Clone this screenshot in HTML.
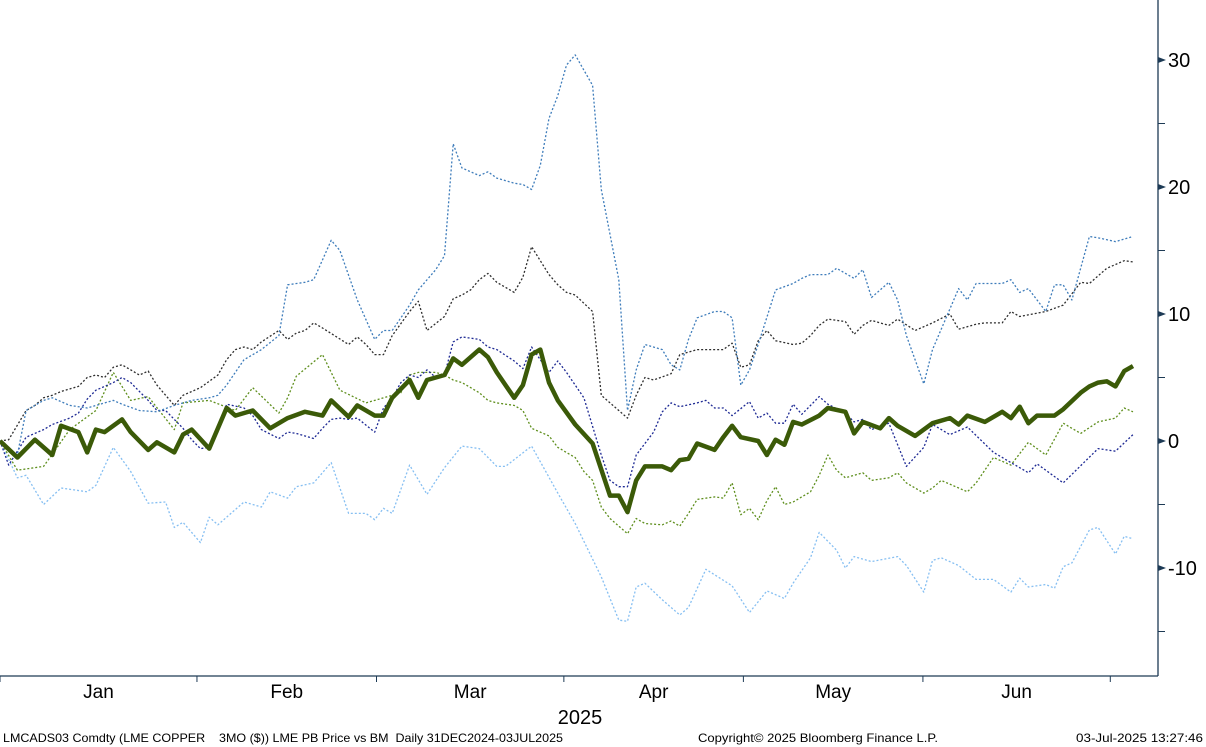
<!DOCTYPE html>
<html><head><meta charset="utf-8"><style>
html,body{margin:0;padding:0;background:#fff;}
svg{display:block;font-family:"Liberation Sans","DejaVu Sans",sans-serif;}
.ft{white-space:pre;}
</style></head><body>
<svg id="chart" width="1206" height="747" viewBox="0 0 1206 747" xmlns="http://www.w3.org/2000/svg">
<g id="series-layer"></g>
<g id="axis-layer"></g>
<text x="580" y="724" font-size="20" text-anchor="middle" fill="#000">2025</text>
<text class="ft" xml:space="preserve" x="3" y="742" font-size="12" fill="#000" textLength="560" lengthAdjust="spacingAndGlyphs">LMCADS03 Comdty (LME COPPER    3MO ($)) LME PB Price vs BM  Daily 31DEC2024-03JUL2025</text>
<text x="698" y="742" font-size="12" fill="#000" textLength="240" lengthAdjust="spacingAndGlyphs">Copyright© 2025 Bloomberg Finance L.P.</text>
<text x="1076" y="742" font-size="12" fill="#000" textLength="127" lengthAdjust="spacingAndGlyphs">03-Jul-2025 13:27:46</text>
</svg>
<script>
const mainDays=[0,2,4,6,7,9,10,11,12,14,15,17,18,20,21,22,24,26,27,29,31,33,35,37,38,40,41,43,44,45,47,48,49,51,52,53,55,56,57,59,60,61,62,63,64,66,68,70,71,72,73,74,76,77,78,79,80,82,83,84,85,87,88,89,90,91,92,94,95,97,98,99,101,102,103,105,107,109,110,111,113,115,116,117,118,119,121,122,124,125,126,127,128,129,130];
const mainVals=[0,-1.3,0.1,-1.1,1.2,0.7,-0.9,0.9,0.7,1.7,0.7,-0.7,-0.1,-0.9,0.5,0.9,-0.6,2.6,2.0,2.4,1.0,1.8,2.3,2.0,3.2,1.9,2.8,2.0,2.0,3.4,4.8,3.4,4.8,5.2,6.5,6.0,7.2,6.6,5.4,3.4,4.4,6.8,7.2,4.6,3.2,1.3,-0.2,-4.3,-4.3,-5.6,-3.1,-2.0,-2.0,-2.3,-1.5,-1.4,-0.2,-0.7,0.3,1.2,0.3,0.0,-1.1,0.1,-0.3,1.5,1.3,2.0,2.6,2.3,0.6,1.5,1.0,1.8,1.2,0.4,1.4,1.8,1.3,2.0,1.5,2.3,1.8,2.7,1.4,2.0,2.0,2.5,3.8,4.3,4.6,4.7,4.3,5.5,5.9];
const s1Days=[0,2,3,5,6,8,10,13,14,16,18,20,22,24,25,26,28,30,32,33,35,36,38,39,41,43,44,45,47,48,50,51,52,53,55,56,57,59,60,61,62,63,64,65,66,68,69,71,72,73,74,76,77,78,79,80,82,83,84,85,86,87,89,91,92,93,95,96,98,99,100,102,103,104,106,107,110,111,112,113,115,116,117,118,120,121,122,123,125,126,128,130];
const s1Vals=[0,-1.1,2.4,3.2,3.4,2.8,2.6,3.2,2.9,2.4,2.3,2.8,3.2,3.4,3.6,4.4,6.4,7.2,8.3,12.3,12.5,12.7,15.8,15.0,11.1,8.0,8.7,8.7,10.7,11.9,13.5,14.6,23.4,21.5,20.9,21.2,20.7,20.3,20.2,19.8,21.7,25.4,27.2,29.6,30.4,28.0,19.8,12.7,2.4,5.6,7.6,7.2,6.0,5.6,8.0,9.7,10.2,10.2,9.7,4.4,5.6,7.6,11.9,12.4,12.8,13.1,13.1,13.6,12.8,13.5,11.3,12.5,11.1,8.3,4.5,7.2,12.0,11.1,12.4,12.4,12.4,12.7,11.7,12.0,10.2,12.3,12.3,11.1,16.1,16.0,15.7,16.1];
const s2Days=[0,1,3,4,5,6,7,9,10,11,12,13,14,16,17,18,20,21,22,23,25,26,27,28,29,30,32,33,34,35,36,37,40,41,42,43,44,45,47,48,49,51,52,53,54,55,56,57,59,60,61,62,63,64,65,66,68,69,71,72,73,74,75,77,78,79,80,82,83,84,85,86,87,88,89,91,92,93,94,95,97,98,99,100,102,103,105,107,109,110,112,113,115,116,117,120,122,124,125,127,129,130];
const s2Vals=[0,0.1,2.4,2.8,3.4,3.6,3.9,4.3,5.0,5.2,5.0,5.8,6.0,5.2,5.5,4.4,2.8,3.6,3.9,4.2,5.2,6.4,7.2,7.4,7.2,7.8,8.7,8.0,8.5,8.7,9.3,8.9,7.6,8.2,7.6,6.8,6.8,8.3,10.2,11.0,8.7,9.8,11.2,11.5,11.9,12.7,13.2,12.5,11.7,12.9,15.3,14.2,13.1,12.3,11.7,11.5,10.2,3.6,2.4,1.8,3.6,5.0,4.8,5.3,6.8,7.0,7.2,7.2,7.2,7.7,5.8,6.0,7.9,8.7,7.9,7.6,7.7,8.3,9.1,9.6,9.4,8.4,9.1,9.5,9.1,9.6,8.7,9.3,10.0,8.8,9.2,9.3,9.3,10.2,9.8,10.2,10.7,12.5,12.4,13.6,14.2,14.1];
const s3Days=[0,1,3,5,6,8,9,10,11,13,14,15,17,18,19,20,21,22,23,24,25,26,28,29,30,32,33,34,36,37,38,39,40,41,43,44,45,46,47,48,49,50,51,52,53,55,56,57,59,60,61,63,64,65,66,67,69,70,71,72,73,75,76,77,78,80,81,82,83,84,86,87,88,89,90,91,92,94,95,97,98,99,100,102,104,106,107,109,111,114,118,119,122,126,128,130];
const s3Vals=[0,-1.9,0.3,0.9,1.3,1.8,2.2,3.3,4.0,4.6,5.0,4.6,3.2,2.4,2.4,1.7,1.0,0.1,-0.6,-0.5,0.7,2.9,2.6,2.0,0.9,0.2,0.7,0.6,0.2,1.0,1.7,1.8,1.7,1.8,0.7,2.6,3.4,4.6,5.2,5.0,5.6,5.0,5.2,7.8,8.2,8.0,7.4,7.2,6.3,5.7,7.4,5.4,6.3,5.4,4.4,3.4,-1.1,-3.1,-3.6,-3.6,-1.1,0.7,2.3,3.0,2.7,3.0,3.2,2.6,2.6,2.0,3.1,1.8,2.2,1.4,1.4,2.9,2.1,3.5,2.9,2.2,1.5,1.7,0.9,1.4,-2.0,-0.5,1.3,0.5,1.1,-0.9,-2.5,-1.8,-3.3,-0.6,-0.8,0.5];
const s4Days=[0,2,5,8,11,13,15,17,20,21,24,27,29,32,33,34,37,39,42,46,47,48,50,51,52,53,55,56,57,59,60,61,63,64,66,67,68,69,70,72,73,74,76,77,78,79,80,82,83,84,85,86,87,88,89,90,91,93,94,95,96,97,99,100,102,103,104,106,107,108,111,112,114,116,118,120,122,124,126,128,129,130];
const s4Vals=[0,-2.3,-2.0,0.9,2.4,5.4,3.2,3.5,0.9,3.0,3.2,2.4,4.2,2.2,3.4,5.1,6.8,4.0,3.0,3.8,5.2,5.4,5.4,5.2,4.8,4.6,3.8,3.2,3.0,2.8,2.4,1.0,0.4,-0.5,-1.3,-2.4,-3.1,-5.2,-6.1,-7.3,-6.1,-6.5,-6.6,-6.3,-6.7,-5.7,-4.6,-4.4,-4.5,-3.3,-5.8,-5.3,-6.2,-4.7,-3.6,-5.0,-4.8,-4.0,-2.7,-1.1,-2.3,-2.9,-2.5,-3.1,-2.9,-2.5,-3.3,-4.1,-3.7,-3.1,-4.0,-3.3,-1.3,-1.9,-0.1,-1.1,1.4,0.6,1.5,1.8,2.6,2.3];
const s5Days=[0,2,3,5,7,10,11,13,15,17,19,20,21,23,24,25,28,30,31,33,34,36,38,40,42,43,44,45,47,49,51,53,55,57,58,61,64,66,69,71,72,73,74,76,78,79,81,84,86,88,90,91,93,94,96,97,98,100,103,104,106,107,108,110,112,114,116,117,118,120,121,122,123,125,126,128,129,130];
const s5Vals=[0,-2.9,-2.7,-5.0,-3.7,-4.0,-3.5,-0.5,-2.4,-4.9,-4.8,-6.8,-6.4,-8.0,-6.0,-6.6,-4.8,-5.2,-4.0,-4.5,-3.6,-3.3,-1.7,-5.7,-5.7,-6.2,-5.3,-5.7,-1.9,-4.2,-2.1,-0.4,-0.6,-2.0,-2.0,-0.4,-4.1,-6.5,-10.7,-14.1,-14.2,-11.5,-11.2,-12.5,-13.7,-13.1,-10.1,-11.4,-13.5,-11.8,-12.4,-11.2,-9.2,-7.2,-8.6,-10.0,-9.1,-9.5,-9.1,-9.8,-11.9,-9.4,-9.2,-9.8,-10.9,-10.9,-11.9,-10.8,-11.5,-11.3,-11.6,-9.9,-9.6,-7.0,-6.8,-8.9,-7.5,-7.7];
const yTicks=[30,20,10,0,-10];
const yMinor=[25,15,5,-5,-15];
const monthLabels=["Jan","Feb","Mar","Apr","May","Jun"];
const monthTickDays=[0,22.6,43.2,64.7,85.3,105.9,127.4];

const NS="http://www.w3.org/2000/svg";
const X0=0, PX_PER_DAY=8.715, Y0=441, PX_PER_UNIT=12.7;
function xScale(d){return X0+d*PX_PER_DAY;}
function yScale(v){return Y0-v*PX_PER_UNIT;}
const series=document.getElementById('series-layer');
const axis=document.getElementById('axis-layer');
function line(days,vals,color,width,dash,name){
  const p=document.createElementNS(NS,'polyline');
  p.setAttribute('points',days.map((d,i)=>xScale(d).toFixed(1)+','+yScale(vals[i]).toFixed(1)).join(' '));
  p.setAttribute('fill','none');p.setAttribute('stroke',color);p.setAttribute('stroke-width',width);
  p.setAttribute('stroke-linejoin','round');
  if(dash)p.setAttribute('stroke-dasharray',dash);
  
  
  series.appendChild(p);
}
line(s5Days,s5Vals,'#86bff2',1.3,'2,2','series-light-blue');
line(s4Days,s4Vals,'#5f8f1e',1.3,'2,2','series-olive');
line(s3Days,s3Vals,'#1e2a94',1.3,'2,2','series-navy');
line(s2Days,s2Vals,'#2e2e2e',1.3,'2,2','series-dark-gray');
line(s1Days,s1Vals,'#3f7dbb',1.3,'2,2','series-steel-blue');
line(mainDays,mainVals,'#3b5a08',4.5,null,'series-lme-pb-main');

function el(tag,attrs){const e=document.createElementNS(NS,tag);for(const k in attrs)e.setAttribute(k,attrs[k]);axis.appendChild(e);return e;}
const ax=el('line',{x1:1158,y1:0,x2:1158,y2:676,stroke:'#1d3a55','stroke-width':1.3});


const bx=el('line',{x1:0,y1:676,x2:1158,y2:676,stroke:'#1d3a55','stroke-width':1.3});


yTicks.forEach(v=>{
  const y=yScale(v);
  const t=el('polygon',{points:`1158,${y-3} 1166,${y} 1158,${y+3}`,fill:'#1d3a55'});
  
  
  const l=el('text',{x:1168,y:y+7,'font-size':20,fill:'#000'});
  l.textContent=String(v);
  
  
});
yMinor.forEach(v=>{
  const y=yScale(v);
  const t=el('line',{x1:1158,y1:y,x2:1165,y2:y,stroke:'#1d3a55','stroke-width':1});
  
  
});
monthTickDays.forEach(d=>{
  const x=xScale(d);
  const t=el('line',{x1:x,y1:676,x2:x,y2:682,stroke:'#1d3a55','stroke-width':1});
  
  
});
monthLabels.forEach((m,i)=>{
  const x=(xScale(monthTickDays[i])+xScale(monthTickDays[i+1]))/2;
  const l=el('text',{x:x,y:698,'font-size':19,'text-anchor':'middle',fill:'#000'});
  l.textContent=m;
  
  
});
</script>
</body></html>
